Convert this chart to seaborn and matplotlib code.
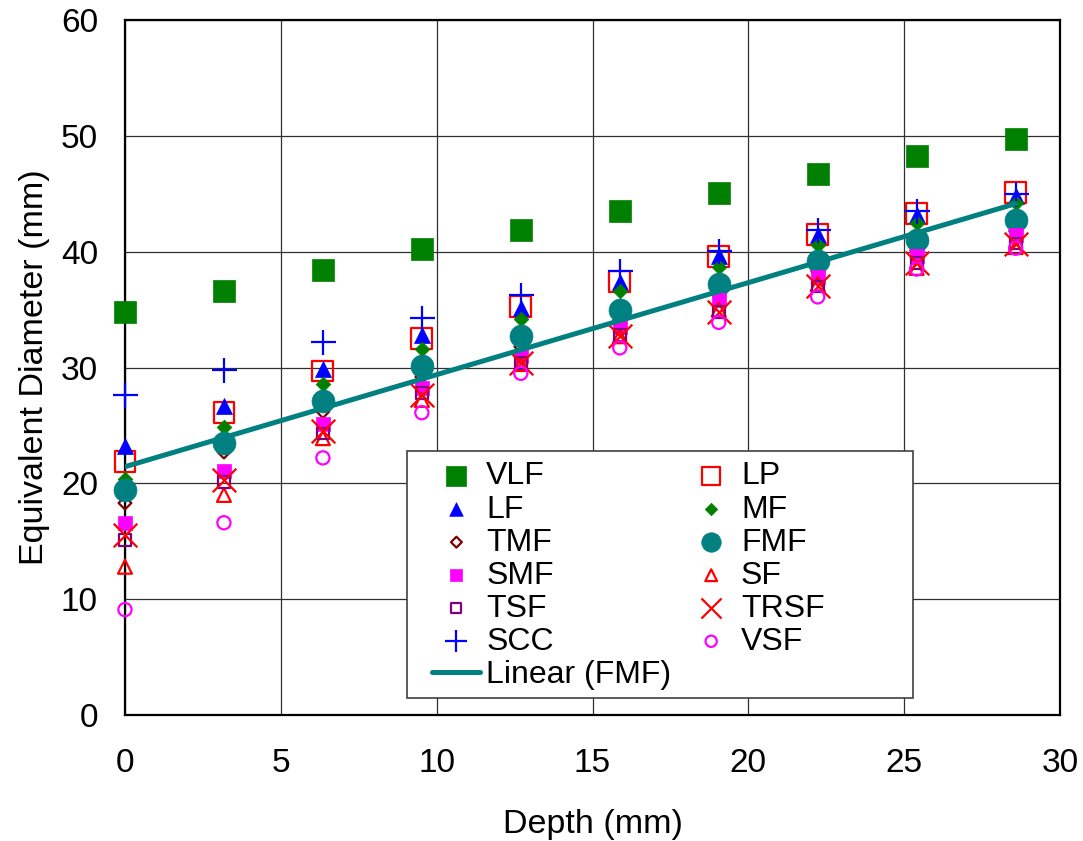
import numpy as np
import pandas as pd
import matplotlib
matplotlib.use('Agg')
import matplotlib.pyplot as plt
from matplotlib.patches import Rectangle
import seaborn as sns

depth = [0, 3.175, 6.35, 9.525, 12.7, 15.875, 19.05, 22.225, 25.4, 28.575]

vlf = [34.8, 36.6, 38.4, 40.2, 41.9, 43.5, 45.1, 46.7, 48.3, 49.7]
lp = [21.9, 26.1, 29.7, 32.5, 35.3, 37.4, 39.6, 41.5, 43.3, 45.1]
lf = [23.2, 26.7, 29.9, 32.8, 35.1, 37.4, 39.6, 41.4, 43.2, 44.8]
mf = [20.4, 24.9, 28.6, 31.6, 34.2, 36.6, 38.7, 40.6, 42.5, 44.2]
tmf = [18.3, 22.7, 26.2, 29.2, 31.8, 34.1, 36.3, 38.3, 40.1, 41.8]
fmf = [19.4, 23.5, 27.1, 30.1, 32.7, 35.0, 37.2, 39.2, 41.0, 42.7]
smf = [16.6, 21.1, 25.1, 28.2, 31.0, 33.5, 35.8, 37.8, 39.6, 41.4]
sf = [12.8, 19.0, 23.9, 27.2, 30.3, 32.7, 35.0, 37.2, 38.6, 40.4]
tsf = [15.1, 20.1, 24.3, 27.8, 30.4, 32.8, 34.8, 37.0, 39.0, 40.7]
trsf = [15.5, 20.3, 24.5, 27.6, 30.4, 32.7, 34.8, 37.0, 39.0, 40.7]
scc = [27.6, 29.8, 32.2, 34.3, 36.3, 38.3, 40.1, 41.9, 43.5, 45.0]
vsf = [9.1, 16.6, 22.2, 26.1, 29.5, 31.7, 33.9, 36.1, 38.5, 40.3]

# drawing order (later on top)
series = [
    ('VLF', vlf, 's', 16.5, '#008000', True),
    ('LP', lp, 's', 15, '#FF0000', False),
    ('LF', lf, '^', 11.5, '#0000FF', True),
    ('MF', mf, 'D', 7.5, '#008000', True),
    ('TMF', tmf, 'D', 6.5, '#800000', False),
    ('FMF', fmf, 'o', 16.5, '#008080', True),
    ('SMF', smf, 's', 9.5, '#FF00FF', True),
    ('SF', sf, '^', 10, '#FF0000', False),
    ('TSF', tsf, 's', 8.5, '#800080', False),
    ('TRSF', trsf, 'x', 17, '#FF0000', None),
    ('SCC', scc, '+', 18, '#0000FF', None),
    ('VSF', vsf, 'o', 9.5, '#FF00FF', False),
]

legend_order = ['VLF', 'LF', 'TMF', 'SMF', 'TSF', 'SCC', 'Linear (FMF)',
                'LP', 'MF', 'FMF', 'SF', 'TRSF', 'VSF']

sns.set_theme(style='white')
plt.rcParams['font.family'] = ['Liberation Sans', 'DejaVu Sans']

fig = plt.figure(figsize=(10.83, 8.41), dpi=100)
ax = fig.add_axes([0.1154, 0.1498, 0.9788 - 0.1154, 0.9762 - 0.1498])

for i, (name, vals, mk, size, col, filled) in enumerate(series):
    if filled is True:
        sns.scatterplot(x=depth, y=vals, marker=mk, s=size ** 2, color=col,
                        edgecolor=col, linewidth=0.5, label=name, ax=ax,
                        zorder=3 + i * 0.01, clip_on=False)
    elif filled is False:
        sns.scatterplot(x=depth, y=vals, marker=mk, s=size ** 2, color=col,
                        facecolor='none', edgecolor=col, linewidth=1.6, label=name,
                        ax=ax, zorder=3 + i * 0.01, clip_on=False)
    else:
        sns.scatterplot(x=depth, y=vals, marker=mk, s=size ** 2, color=col,
                        linewidth=1.6, label=name, ax=ax, zorder=3 + i * 0.01,
                        clip_on=False)

sns.regplot(x=depth, y=fmf, scatter=False, ci=None, truncate=True, ax=ax,
            label='Linear (FMF)', line_kws=dict(color='#008080', lw=3.6, zorder=4))
trend = ax.lines[-1]
trend.set_label('Linear (FMF)')

ax.set_xlim(0, 30)
ax.set_ylim(0, 60)
ax.set_xticks(range(0, 31, 5))
ax.set_yticks(range(0, 61, 10))
ax.grid(True, color='#303030', lw=0.9)
ax.set_axisbelow(True)
for sp in ax.spines.values():
    sp.set_color('black')
    sp.set_linewidth(1.6)
    sp.set_zorder(2.5)
ax.tick_params(axis='both', direction='out', length=8, width=1, color='#808080',
               labelsize=24, labelcolor='black')
ax.tick_params(axis='x', pad=16)
ax.tick_params(axis='y', pad=11.5)
ax.set_xlabel('Depth (mm)', fontsize=24.5, labelpad=21, color='black')
ax.set_ylabel('Equivalent Diameter (mm)', fontsize=24.5, labelpad=8, color='black')

# legend frame
ax.add_patch(Rectangle((0.3016, 0.0245), 0.5412, 0.3554, transform=ax.transAxes,
                       facecolor='white', edgecolor='#404040', lw=1.2, zorder=5))

handles, labels = ax.get_legend_handles_labels()
hmap = dict(zip(labels, handles))
leg = ax.legend([hmap[k] for k in legend_order], legend_order, ncol=2,
                loc='upper left', bbox_to_anchor=(0.322, 0.374), borderaxespad=0,
                frameon=False, borderpad=0.2, handlelength=1.5, handletextpad=0.18,
                columnspacing=0.5, labelspacing=0.095, markerscale=0.85,
                prop={'family': ['Liberation Sans Narrow', 'Liberation Sans'], 'size': 23})
leg.set_zorder(6)
for t in leg.get_texts():
    t.set_color('black')

fig.savefig('out.png', dpi=100)
